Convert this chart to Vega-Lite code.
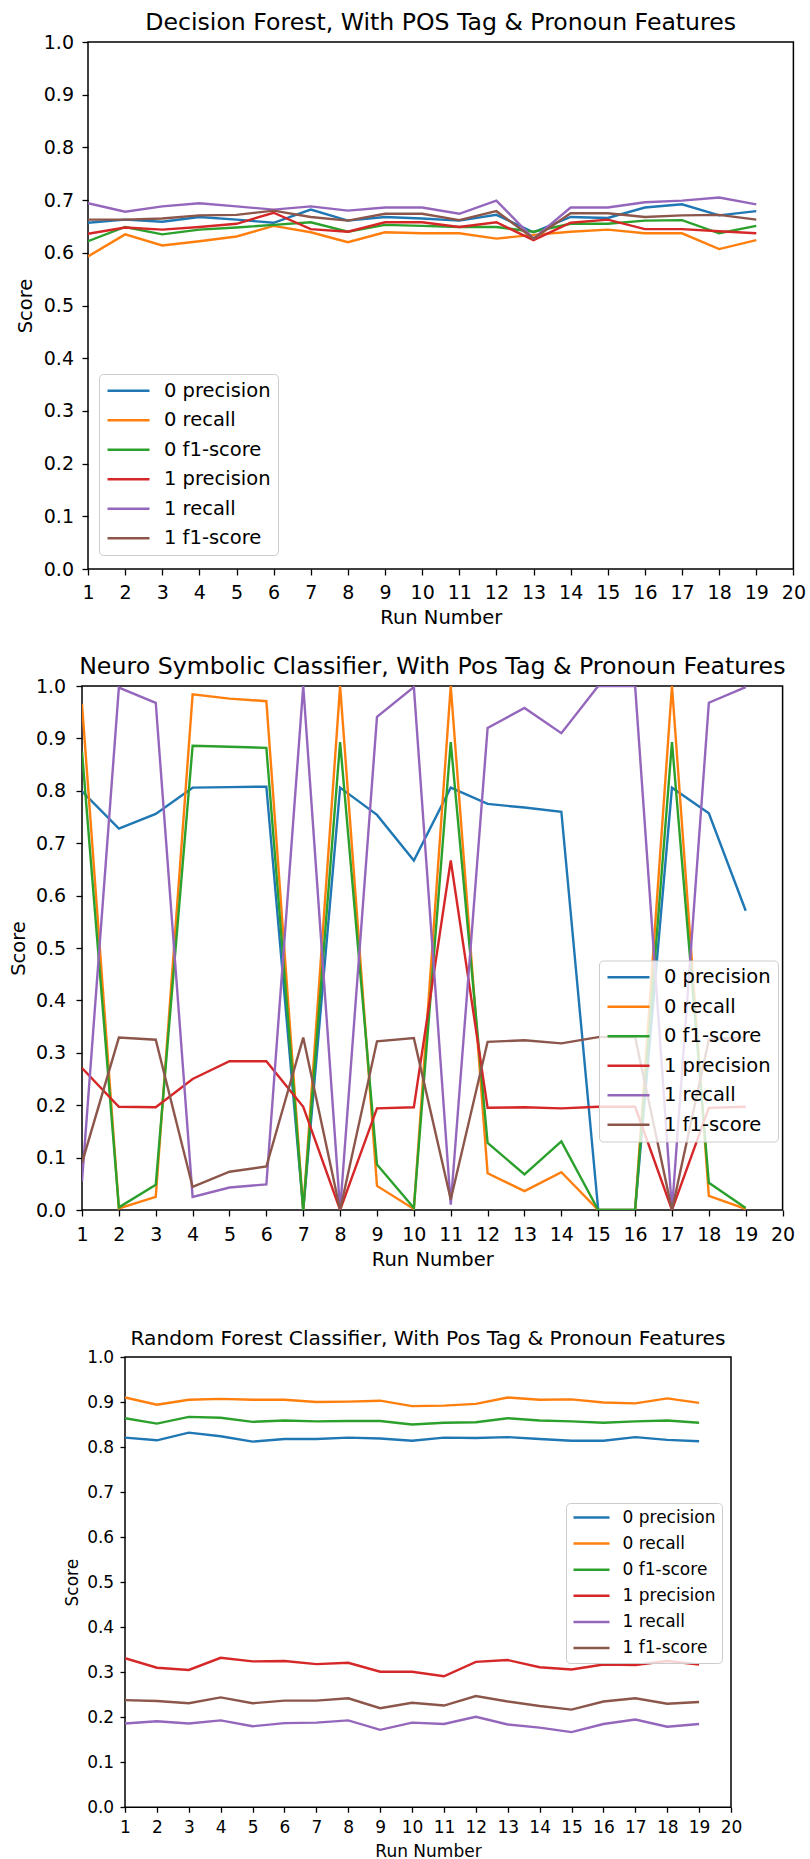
{
  "$schema": "https://vega.github.io/schema/vega-lite/v6.json",
  "padding": {"left": 0, "top": 10, "right": 0, "bottom": 0},
  "datasets": {
    "decision_forest": [
      {"run": 1, "metric": "0 precision", "score": 0.657}, {"run": 2, "metric": "0 precision", "score": 0.663}, {"run": 3, "metric": "0 precision", "score": 0.659}, {"run": 4, "metric": "0 precision", "score": 0.668}, {"run": 5, "metric": "0 precision", "score": 0.663}, {"run": 6, "metric": "0 precision", "score": 0.657}, {"run": 7, "metric": "0 precision", "score": 0.682}, {"run": 8, "metric": "0 precision", "score": 0.661}, {"run": 9, "metric": "0 precision", "score": 0.668}, {"run": 10, "metric": "0 precision", "score": 0.665}, {"run": 11, "metric": "0 precision", "score": 0.661}, {"run": 12, "metric": "0 precision", "score": 0.672}, {"run": 13, "metric": "0 precision", "score": 0.639}, {"run": 14, "metric": "0 precision", "score": 0.668}, {"run": 15, "metric": "0 precision", "score": 0.666}, {"run": 16, "metric": "0 precision", "score": 0.686}, {"run": 17, "metric": "0 precision", "score": 0.692}, {"run": 18, "metric": "0 precision", "score": 0.671}, {"run": 19, "metric": "0 precision", "score": 0.679},
      {"run": 1, "metric": "0 recall", "score": 0.593}, {"run": 2, "metric": "0 recall", "score": 0.635}, {"run": 3, "metric": "0 recall", "score": 0.614}, {"run": 4, "metric": "0 recall", "score": 0.622}, {"run": 5, "metric": "0 recall", "score": 0.631}, {"run": 6, "metric": "0 recall", "score": 0.651}, {"run": 7, "metric": "0 recall", "score": 0.639}, {"run": 8, "metric": "0 recall", "score": 0.620}, {"run": 9, "metric": "0 recall", "score": 0.639}, {"run": 10, "metric": "0 recall", "score": 0.637}, {"run": 11, "metric": "0 recall", "score": 0.637}, {"run": 12, "metric": "0 recall", "score": 0.627}, {"run": 13, "metric": "0 recall", "score": 0.634}, {"run": 14, "metric": "0 recall", "score": 0.640}, {"run": 15, "metric": "0 recall", "score": 0.644}, {"run": 16, "metric": "0 recall", "score": 0.637}, {"run": 17, "metric": "0 recall", "score": 0.637}, {"run": 18, "metric": "0 recall", "score": 0.607}, {"run": 19, "metric": "0 recall", "score": 0.624},
      {"run": 1, "metric": "0 f1-score", "score": 0.622}, {"run": 2, "metric": "0 f1-score", "score": 0.649}, {"run": 3, "metric": "0 f1-score", "score": 0.635}, {"run": 4, "metric": "0 f1-score", "score": 0.644}, {"run": 5, "metric": "0 f1-score", "score": 0.648}, {"run": 6, "metric": "0 f1-score", "score": 0.653}, {"run": 7, "metric": "0 f1-score", "score": 0.658}, {"run": 8, "metric": "0 f1-score", "score": 0.640}, {"run": 9, "metric": "0 f1-score", "score": 0.653}, {"run": 10, "metric": "0 f1-score", "score": 0.651}, {"run": 11, "metric": "0 f1-score", "score": 0.649}, {"run": 12, "metric": "0 f1-score", "score": 0.649}, {"run": 13, "metric": "0 f1-score", "score": 0.640}, {"run": 14, "metric": "0 f1-score", "score": 0.655}, {"run": 15, "metric": "0 f1-score", "score": 0.655}, {"run": 16, "metric": "0 f1-score", "score": 0.661}, {"run": 17, "metric": "0 f1-score", "score": 0.662}, {"run": 18, "metric": "0 f1-score", "score": 0.637}, {"run": 19, "metric": "0 f1-score", "score": 0.651},
      {"run": 1, "metric": "1 precision", "score": 0.636}, {"run": 2, "metric": "1 precision", "score": 0.648}, {"run": 3, "metric": "1 precision", "score": 0.644}, {"run": 4, "metric": "1 precision", "score": 0.649}, {"run": 5, "metric": "1 precision", "score": 0.655}, {"run": 6, "metric": "1 precision", "score": 0.676}, {"run": 7, "metric": "1 precision", "score": 0.645}, {"run": 8, "metric": "1 precision", "score": 0.640}, {"run": 9, "metric": "1 precision", "score": 0.658}, {"run": 10, "metric": "1 precision", "score": 0.658}, {"run": 11, "metric": "1 precision", "score": 0.649}, {"run": 12, "metric": "1 precision", "score": 0.658}, {"run": 13, "metric": "1 precision", "score": 0.624}, {"run": 14, "metric": "1 precision", "score": 0.657}, {"run": 15, "metric": "1 precision", "score": 0.663}, {"run": 16, "metric": "1 precision", "score": 0.645}, {"run": 17, "metric": "1 precision", "score": 0.645}, {"run": 18, "metric": "1 precision", "score": 0.641}, {"run": 19, "metric": "1 precision", "score": 0.637},
      {"run": 1, "metric": "1 recall", "score": 0.694}, {"run": 2, "metric": "1 recall", "score": 0.678}, {"run": 3, "metric": "1 recall", "score": 0.688}, {"run": 4, "metric": "1 recall", "score": 0.694}, {"run": 5, "metric": "1 recall", "score": 0.688}, {"run": 6, "metric": "1 recall", "score": 0.682}, {"run": 7, "metric": "1 recall", "score": 0.688}, {"run": 8, "metric": "1 recall", "score": 0.680}, {"run": 9, "metric": "1 recall", "score": 0.686}, {"run": 10, "metric": "1 recall", "score": 0.686}, {"run": 11, "metric": "1 recall", "score": 0.674}, {"run": 12, "metric": "1 recall", "score": 0.699}, {"run": 13, "metric": "1 recall", "score": 0.627}, {"run": 14, "metric": "1 recall", "score": 0.686}, {"run": 15, "metric": "1 recall", "score": 0.686}, {"run": 16, "metric": "1 recall", "score": 0.696}, {"run": 17, "metric": "1 recall", "score": 0.699}, {"run": 18, "metric": "1 recall", "score": 0.705}, {"run": 19, "metric": "1 recall", "score": 0.692},
      {"run": 1, "metric": "1 f1-score", "score": 0.663}, {"run": 2, "metric": "1 f1-score", "score": 0.663}, {"run": 3, "metric": "1 f1-score", "score": 0.665}, {"run": 4, "metric": "1 f1-score", "score": 0.671}, {"run": 5, "metric": "1 f1-score", "score": 0.672}, {"run": 6, "metric": "1 f1-score", "score": 0.680}, {"run": 7, "metric": "1 f1-score", "score": 0.668}, {"run": 8, "metric": "1 f1-score", "score": 0.661}, {"run": 9, "metric": "1 f1-score", "score": 0.674}, {"run": 10, "metric": "1 f1-score", "score": 0.674}, {"run": 11, "metric": "1 f1-score", "score": 0.662}, {"run": 12, "metric": "1 f1-score", "score": 0.679}, {"run": 13, "metric": "1 f1-score", "score": 0.627}, {"run": 14, "metric": "1 f1-score", "score": 0.675}, {"run": 15, "metric": "1 f1-score", "score": 0.675}, {"run": 16, "metric": "1 f1-score", "score": 0.668}, {"run": 17, "metric": "1 f1-score", "score": 0.671}, {"run": 18, "metric": "1 f1-score", "score": 0.672}, {"run": 19, "metric": "1 f1-score", "score": 0.663}
    ],
    "neuro_symbolic": [
      {"run": 1, "metric": "0 precision", "score": 0.799}, {"run": 2, "metric": "0 precision", "score": 0.728}, {"run": 3, "metric": "0 precision", "score": 0.756}, {"run": 4, "metric": "0 precision", "score": 0.806}, {"run": 5, "metric": "0 precision", "score": 0.807}, {"run": 6, "metric": "0 precision", "score": 0.808}, {"run": 7, "metric": "0 precision", "score": 0.0}, {"run": 8, "metric": "0 precision", "score": 0.806}, {"run": 9, "metric": "0 precision", "score": 0.754}, {"run": 10, "metric": "0 precision", "score": 0.667}, {"run": 11, "metric": "0 precision", "score": 0.806}, {"run": 12, "metric": "0 precision", "score": 0.775}, {"run": 13, "metric": "0 precision", "score": 0.768}, {"run": 14, "metric": "0 precision", "score": 0.760}, {"run": 15, "metric": "0 precision", "score": 0.0}, {"run": 16, "metric": "0 precision", "score": 0.0}, {"run": 17, "metric": "0 precision", "score": 0.806}, {"run": 18, "metric": "0 precision", "score": 0.757}, {"run": 19, "metric": "0 precision", "score": 0.571},
      {"run": 1, "metric": "0 recall", "score": 0.966}, {"run": 2, "metric": "0 recall", "score": 0.003}, {"run": 3, "metric": "0 recall", "score": 0.025}, {"run": 4, "metric": "0 recall", "score": 0.984}, {"run": 5, "metric": "0 recall", "score": 0.976}, {"run": 6, "metric": "0 recall", "score": 0.971}, {"run": 7, "metric": "0 recall", "score": 0.0}, {"run": 8, "metric": "0 recall", "score": 1.0}, {"run": 9, "metric": "0 recall", "score": 0.046}, {"run": 10, "metric": "0 recall", "score": 0.002}, {"run": 11, "metric": "0 recall", "score": 1.0}, {"run": 12, "metric": "0 recall", "score": 0.070}, {"run": 13, "metric": "0 recall", "score": 0.036}, {"run": 14, "metric": "0 recall", "score": 0.072}, {"run": 15, "metric": "0 recall", "score": 0.0}, {"run": 16, "metric": "0 recall", "score": 0.0}, {"run": 17, "metric": "0 recall", "score": 1.0}, {"run": 18, "metric": "0 recall", "score": 0.027}, {"run": 19, "metric": "0 recall", "score": 0.002},
      {"run": 1, "metric": "0 f1-score", "score": 0.875}, {"run": 2, "metric": "0 f1-score", "score": 0.005}, {"run": 3, "metric": "0 f1-score", "score": 0.048}, {"run": 4, "metric": "0 f1-score", "score": 0.886}, {"run": 5, "metric": "0 f1-score", "score": 0.884}, {"run": 6, "metric": "0 f1-score", "score": 0.882}, {"run": 7, "metric": "0 f1-score", "score": 0.0}, {"run": 8, "metric": "0 f1-score", "score": 0.893}, {"run": 9, "metric": "0 f1-score", "score": 0.087}, {"run": 10, "metric": "0 f1-score", "score": 0.004}, {"run": 11, "metric": "0 f1-score", "score": 0.893}, {"run": 12, "metric": "0 f1-score", "score": 0.128}, {"run": 13, "metric": "0 f1-score", "score": 0.068}, {"run": 14, "metric": "0 f1-score", "score": 0.131}, {"run": 15, "metric": "0 f1-score", "score": 0.0}, {"run": 16, "metric": "0 f1-score", "score": 0.0}, {"run": 17, "metric": "0 f1-score", "score": 0.893}, {"run": 18, "metric": "0 f1-score", "score": 0.052}, {"run": 19, "metric": "0 f1-score", "score": 0.004},
      {"run": 1, "metric": "1 precision", "score": 0.271}, {"run": 2, "metric": "1 precision", "score": 0.197}, {"run": 3, "metric": "1 precision", "score": 0.196}, {"run": 4, "metric": "1 precision", "score": 0.250}, {"run": 5, "metric": "1 precision", "score": 0.284}, {"run": 6, "metric": "1 precision", "score": 0.284}, {"run": 7, "metric": "1 precision", "score": 0.197}, {"run": 8, "metric": "1 precision", "score": 0.0}, {"run": 9, "metric": "1 precision", "score": 0.194}, {"run": 10, "metric": "1 precision", "score": 0.196}, {"run": 11, "metric": "1 precision", "score": 0.667}, {"run": 12, "metric": "1 precision", "score": 0.195}, {"run": 13, "metric": "1 precision", "score": 0.196}, {"run": 14, "metric": "1 precision", "score": 0.194}, {"run": 15, "metric": "1 precision", "score": 0.197}, {"run": 16, "metric": "1 precision", "score": 0.197}, {"run": 17, "metric": "1 precision", "score": 0.0}, {"run": 18, "metric": "1 precision", "score": 0.195}, {"run": 19, "metric": "1 precision", "score": 0.197},
      {"run": 1, "metric": "1 recall", "score": 0.055}, {"run": 2, "metric": "1 recall", "score": 0.997}, {"run": 3, "metric": "1 recall", "score": 0.968}, {"run": 4, "metric": "1 recall", "score": 0.025}, {"run": 5, "metric": "1 recall", "score": 0.043}, {"run": 6, "metric": "1 recall", "score": 0.049}, {"run": 7, "metric": "1 recall", "score": 1.0}, {"run": 8, "metric": "1 recall", "score": 0.0}, {"run": 9, "metric": "1 recall", "score": 0.941}, {"run": 10, "metric": "1 recall", "score": 0.998}, {"run": 11, "metric": "1 recall", "score": 0.010}, {"run": 12, "metric": "1 recall", "score": 0.920}, {"run": 13, "metric": "1 recall", "score": 0.958}, {"run": 14, "metric": "1 recall", "score": 0.910}, {"run": 15, "metric": "1 recall", "score": 1.0}, {"run": 16, "metric": "1 recall", "score": 1.0}, {"run": 17, "metric": "1 recall", "score": 0.0}, {"run": 18, "metric": "1 recall", "score": 0.968}, {"run": 19, "metric": "1 recall", "score": 0.998},
      {"run": 1, "metric": "1 f1-score", "score": 0.090}, {"run": 2, "metric": "1 f1-score", "score": 0.329}, {"run": 3, "metric": "1 f1-score", "score": 0.325}, {"run": 4, "metric": "1 f1-score", "score": 0.044}, {"run": 5, "metric": "1 f1-score", "score": 0.073}, {"run": 6, "metric": "1 f1-score", "score": 0.083}, {"run": 7, "metric": "1 f1-score", "score": 0.329}, {"run": 8, "metric": "1 f1-score", "score": 0.0}, {"run": 9, "metric": "1 f1-score", "score": 0.322}, {"run": 10, "metric": "1 f1-score", "score": 0.328}, {"run": 11, "metric": "1 f1-score", "score": 0.020}, {"run": 12, "metric": "1 f1-score", "score": 0.321}, {"run": 13, "metric": "1 f1-score", "score": 0.324}, {"run": 14, "metric": "1 f1-score", "score": 0.318}, {"run": 15, "metric": "1 f1-score", "score": 0.330}, {"run": 16, "metric": "1 f1-score", "score": 0.330}, {"run": 17, "metric": "1 f1-score", "score": 0.0}, {"run": 18, "metric": "1 f1-score", "score": 0.325}, {"run": 19, "metric": "1 f1-score", "score": 0.330}
    ],
    "random_forest": [
      {"run": 1, "metric": "0 precision", "score": 0.821}, {"run": 2, "metric": "0 precision", "score": 0.815}, {"run": 3, "metric": "0 precision", "score": 0.832}, {"run": 4, "metric": "0 precision", "score": 0.824}, {"run": 5, "metric": "0 precision", "score": 0.812}, {"run": 6, "metric": "0 precision", "score": 0.818}, {"run": 7, "metric": "0 precision", "score": 0.818}, {"run": 8, "metric": "0 precision", "score": 0.821}, {"run": 9, "metric": "0 precision", "score": 0.819}, {"run": 10, "metric": "0 precision", "score": 0.814}, {"run": 11, "metric": "0 precision", "score": 0.821}, {"run": 12, "metric": "0 precision", "score": 0.820}, {"run": 13, "metric": "0 precision", "score": 0.822}, {"run": 14, "metric": "0 precision", "score": 0.818}, {"run": 15, "metric": "0 precision", "score": 0.814}, {"run": 16, "metric": "0 precision", "score": 0.814}, {"run": 17, "metric": "0 precision", "score": 0.822}, {"run": 18, "metric": "0 precision", "score": 0.816}, {"run": 19, "metric": "0 precision", "score": 0.813},
      {"run": 1, "metric": "0 recall", "score": 0.910}, {"run": 2, "metric": "0 recall", "score": 0.894}, {"run": 3, "metric": "0 recall", "score": 0.905}, {"run": 4, "metric": "0 recall", "score": 0.907}, {"run": 5, "metric": "0 recall", "score": 0.905}, {"run": 6, "metric": "0 recall", "score": 0.905}, {"run": 7, "metric": "0 recall", "score": 0.900}, {"run": 8, "metric": "0 recall", "score": 0.901}, {"run": 9, "metric": "0 recall", "score": 0.903}, {"run": 10, "metric": "0 recall", "score": 0.891}, {"run": 11, "metric": "0 recall", "score": 0.892}, {"run": 12, "metric": "0 recall", "score": 0.896}, {"run": 13, "metric": "0 recall", "score": 0.910}, {"run": 14, "metric": "0 recall", "score": 0.905}, {"run": 15, "metric": "0 recall", "score": 0.906}, {"run": 16, "metric": "0 recall", "score": 0.899}, {"run": 17, "metric": "0 recall", "score": 0.897}, {"run": 18, "metric": "0 recall", "score": 0.908}, {"run": 19, "metric": "0 recall", "score": 0.898},
      {"run": 1, "metric": "0 f1-score", "score": 0.864}, {"run": 2, "metric": "0 f1-score", "score": 0.852}, {"run": 3, "metric": "0 f1-score", "score": 0.867}, {"run": 4, "metric": "0 f1-score", "score": 0.865}, {"run": 5, "metric": "0 f1-score", "score": 0.856}, {"run": 6, "metric": "0 f1-score", "score": 0.859}, {"run": 7, "metric": "0 f1-score", "score": 0.857}, {"run": 8, "metric": "0 f1-score", "score": 0.858}, {"run": 9, "metric": "0 f1-score", "score": 0.858}, {"run": 10, "metric": "0 f1-score", "score": 0.850}, {"run": 11, "metric": "0 f1-score", "score": 0.854}, {"run": 12, "metric": "0 f1-score", "score": 0.855}, {"run": 13, "metric": "0 f1-score", "score": 0.864}, {"run": 14, "metric": "0 f1-score", "score": 0.859}, {"run": 15, "metric": "0 f1-score", "score": 0.857}, {"run": 16, "metric": "0 f1-score", "score": 0.854}, {"run": 17, "metric": "0 f1-score", "score": 0.857}, {"run": 18, "metric": "0 f1-score", "score": 0.859}, {"run": 19, "metric": "0 f1-score", "score": 0.854},
      {"run": 1, "metric": "1 precision", "score": 0.331}, {"run": 2, "metric": "1 precision", "score": 0.310}, {"run": 3, "metric": "1 precision", "score": 0.305}, {"run": 4, "metric": "1 precision", "score": 0.332}, {"run": 5, "metric": "1 precision", "score": 0.324}, {"run": 6, "metric": "1 precision", "score": 0.325}, {"run": 7, "metric": "1 precision", "score": 0.318}, {"run": 8, "metric": "1 precision", "score": 0.321}, {"run": 9, "metric": "1 precision", "score": 0.301}, {"run": 10, "metric": "1 precision", "score": 0.301}, {"run": 11, "metric": "1 precision", "score": 0.291}, {"run": 12, "metric": "1 precision", "score": 0.323}, {"run": 13, "metric": "1 precision", "score": 0.327}, {"run": 14, "metric": "1 precision", "score": 0.311}, {"run": 15, "metric": "1 precision", "score": 0.306}, {"run": 16, "metric": "1 precision", "score": 0.317}, {"run": 17, "metric": "1 precision", "score": 0.316}, {"run": 18, "metric": "1 precision", "score": 0.325}, {"run": 19, "metric": "1 precision", "score": 0.317},
      {"run": 1, "metric": "1 recall", "score": 0.186}, {"run": 2, "metric": "1 recall", "score": 0.191}, {"run": 3, "metric": "1 recall", "score": 0.186}, {"run": 4, "metric": "1 recall", "score": 0.193}, {"run": 5, "metric": "1 recall", "score": 0.180}, {"run": 6, "metric": "1 recall", "score": 0.187}, {"run": 7, "metric": "1 recall", "score": 0.188}, {"run": 8, "metric": "1 recall", "score": 0.193}, {"run": 9, "metric": "1 recall", "score": 0.172}, {"run": 10, "metric": "1 recall", "score": 0.188}, {"run": 11, "metric": "1 recall", "score": 0.185}, {"run": 12, "metric": "1 recall", "score": 0.201}, {"run": 13, "metric": "1 recall", "score": 0.184}, {"run": 14, "metric": "1 recall", "score": 0.177}, {"run": 15, "metric": "1 recall", "score": 0.167}, {"run": 16, "metric": "1 recall", "score": 0.185}, {"run": 17, "metric": "1 recall", "score": 0.195}, {"run": 18, "metric": "1 recall", "score": 0.179}, {"run": 19, "metric": "1 recall", "score": 0.185},
      {"run": 1, "metric": "1 f1-score", "score": 0.238}, {"run": 2, "metric": "1 f1-score", "score": 0.236}, {"run": 3, "metric": "1 f1-score", "score": 0.231}, {"run": 4, "metric": "1 f1-score", "score": 0.244}, {"run": 5, "metric": "1 f1-score", "score": 0.231}, {"run": 6, "metric": "1 f1-score", "score": 0.237}, {"run": 7, "metric": "1 f1-score", "score": 0.237}, {"run": 8, "metric": "1 f1-score", "score": 0.242}, {"run": 9, "metric": "1 f1-score", "score": 0.220}, {"run": 10, "metric": "1 f1-score", "score": 0.232}, {"run": 11, "metric": "1 f1-score", "score": 0.226}, {"run": 12, "metric": "1 f1-score", "score": 0.247}, {"run": 13, "metric": "1 f1-score", "score": 0.235}, {"run": 14, "metric": "1 f1-score", "score": 0.225}, {"run": 15, "metric": "1 f1-score", "score": 0.217}, {"run": 16, "metric": "1 f1-score", "score": 0.235}, {"run": 17, "metric": "1 f1-score", "score": 0.242}, {"run": 18, "metric": "1 f1-score", "score": 0.230}, {"run": 19, "metric": "1 f1-score", "score": 0.234}
    ]
  },
  "resolve": {"scale": {"color": "independent"}, "legend": {"color": "independent"}},
  "spacing": 0,
  "vconcat": [
    {
      "resolve": {"scale": {"color": "independent"}, "legend": {"color": "independent"}},
      "bounds": "flush",
      "spacing": 0,
      "hconcat": [
        {"width": 87.3, "height": 612, "data": {"values": []}, "mark": {"type": "point", "opacity": 0}, "view": {"stroke": null}},
        {
          "title": {"text": "Decision Forest, With POS Tag & Pronoun Features", "fontSize": 23.6, "offset": -1.6, "frame": "group"},
          "width": 705.4,
          "height": 527,
          "data": {"name": "decision_forest"},
          "mark": {"type": "line", "strokeWidth": 2.4, "clip": true},
          "encoding": {
            "x": {"field": "run", "type": "quantitative", "scale": {"domain": [1, 20], "nice": false, "zero": false},
              "axis": {"title": "Run Number", "values": [1,2,3,4,5,6,7,8,9,10,11,12,13,14,15,16,17,18,19,20], "format": "d", "labelFontSize": 19, "titleFontSize": 19.5, "tickSize": 6, "labelPadding": 8.5, "titlePadding": 6}},
            "y": {"field": "score", "type": "quantitative", "scale": {"domain": [0, 1], "nice": false},
              "axis": {"title": "Score", "values": [0,0.1,0.2,0.3,0.4,0.5,0.6,0.7,0.8,0.9,1], "format": ".1f", "labelFontSize": 19, "titleFontSize": 19.5, "tickSize": 6, "labelPadding": 8.5, "titlePadding": 7.4}},
            "color": {"field": "metric", "type": "nominal",
              "scale": {"domain": ["0 precision", "0 recall", "0 f1-score", "1 precision", "1 recall", "1 f1-score"], "range": ["#1f77b4", "#ff7f0e", "#2ca02c", "#d62728", "#9467bd", "#8c564b"]},
              "legend": {"orient": "none", "legendX": 11, "legendY": 332, "labelFontSize": 19.5, "symbolSize": 1764, "clipHeight": 19.5, "labelOffset": 13, "padding": 7, "rowPadding": 8.5}}
          }
        }
      ]
    },
    {
      "resolve": {"scale": {"color": "independent"}, "legend": {"color": "independent"}},
      "bounds": "flush",
      "spacing": 0,
      "hconcat": [
        {"width": 81.7, "height": 642, "data": {"values": []}, "mark": {"type": "point", "opacity": 0}, "view": {"stroke": null}},
        {
          "title": {"text": "Neuro Symbolic Classifier, With Pos Tag & Pronoun Features", "fontSize": 23.7, "offset": -1.5, "frame": "group"},
          "width": 700.6,
          "height": 524,
          "data": {"name": "neuro_symbolic"},
          "mark": {"type": "line", "strokeWidth": 2.4, "clip": true},
          "encoding": {
            "x": {"field": "run", "type": "quantitative", "scale": {"domain": [1, 20], "nice": false, "zero": false},
              "axis": {"title": "Run Number", "values": [1,2,3,4,5,6,7,8,9,10,11,12,13,14,15,16,17,18,19,20], "format": "d", "labelFontSize": 19, "titleFontSize": 19.5, "tickSize": 6, "labelPadding": 9, "titlePadding": 6.5}},
            "y": {"field": "score", "type": "quantitative", "scale": {"domain": [0, 1], "nice": false},
              "axis": {"title": "Score", "values": [0,0.1,0.2,0.3,0.4,0.5,0.6,0.7,0.8,0.9,1], "format": ".1f", "labelFontSize": 19, "titleFontSize": 19.5, "tickSize": 6, "labelPadding": 10.4, "titlePadding": 7}},
            "color": {"field": "metric", "type": "nominal",
              "scale": {"domain": ["0 precision", "0 recall", "0 f1-score", "1 precision", "1 recall", "1 f1-score"], "range": ["#1f77b4", "#ff7f0e", "#2ca02c", "#d62728", "#9467bd", "#8c564b"]},
              "legend": {"orient": "none", "legendX": 517, "legendY": 274.5, "labelFontSize": 19.5, "symbolSize": 1764, "clipHeight": 19.5, "labelOffset": 13, "padding": 7, "rowPadding": 8.5}}
          }
        }
      ]
    },
    {
      "resolve": {"scale": {"color": "independent"}, "legend": {"color": "independent"}},
      "bounds": "flush",
      "spacing": 0,
      "hconcat": [
        {"width": 125, "height": 500, "data": {"values": []}, "mark": {"type": "point", "opacity": 0}, "view": {"stroke": null}},
        {
          "title": {"text": "Random Forest Classifier, With Pos Tag & Pronoun Features", "fontSize": 20.2, "offset": -1.4, "frame": "group"},
          "width": 606,
          "height": 450.3,
          "data": {"name": "random_forest"},
          "mark": {"type": "line", "strokeWidth": 2.4, "clip": true},
          "encoding": {
            "x": {"field": "run", "type": "quantitative", "scale": {"domain": [1, 20], "nice": false, "zero": false},
              "axis": {"title": "Run Number", "values": [1,2,3,4,5,6,7,8,9,10,11,12,13,14,15,16,17,18,19,20], "format": "d", "labelFontSize": 17, "titleFontSize": 17, "tickSize": 5, "labelPadding": 6.7, "titlePadding": 8.5}},
            "y": {"field": "score", "type": "quantitative", "scale": {"domain": [0, 1], "nice": false},
              "axis": {"title": "Score", "values": [0,0.1,0.2,0.3,0.4,0.5,0.6,0.7,0.8,0.9,1], "format": ".1f", "labelFontSize": 17, "titleFontSize": 17, "tickSize": 5, "labelPadding": 6.3, "titlePadding": 5}},
            "color": {"field": "metric", "type": "nominal",
              "scale": {"domain": ["0 precision", "0 recall", "0 f1-score", "1 precision", "1 recall", "1 f1-score"], "range": ["#1f77b4", "#ff7f0e", "#2ca02c", "#d62728", "#9467bd", "#8c564b"]},
              "legend": {"orient": "none", "legendX": 441, "legendY": 146, "labelFontSize": 17, "symbolSize": 1296, "clipHeight": 17, "labelOffset": 11.5, "padding": 6, "rowPadding": 8.1}}
          }
        }
      ]
    }
  ],
  "config": {
    "font": "DejaVu Sans",
    "view": {"stroke": "black", "strokeWidth": 1.5},
    "title": {"font": "DejaVu Sans", "fontWeight": "normal", "color": "black", "anchor": "middle"},
    "axis": {"grid": false, "domain": false, "ticks": true, "tickColor": "black", "tickWidth": 1.3, "labelColor": "black", "titleColor": "black", "labelFont": "DejaVu Sans", "titleFont": "DejaVu Sans", "titleFontWeight": "normal", "labelFlush": false, "labelOverlap": false, "labelBound": false},
    "legend": {"title": null, "symbolType": "stroke", "symbolStrokeWidth": 2.5, "labelFont": "DejaVu Sans", "labelColor": "black", "fillColor": "rgba(255,255,255,0.8)", "strokeColor": "#cccccc", "cornerRadius": 4, "labelLimit": 400}
  }
}
